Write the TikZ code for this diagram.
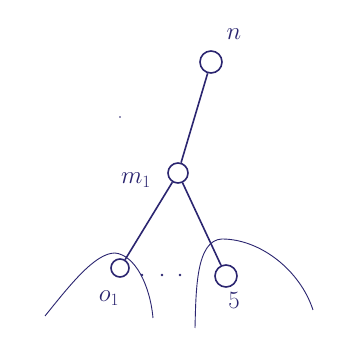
\documentclass[tikz,border=0pt]{standalone}
\usetikzlibrary{calc}
\definecolor{ink}{HTML}{2B2570}
\begin{document}
\begin{tikzpicture}[x=1pt,y=-1pt,
  vert/.style={draw=ink,line width=1.6pt,circle,inner sep=0pt},
  edge/.style={draw=ink,line width=1.6pt},
  hill/.style={draw=ink,line width=0.9pt},
  lbl/.style={text=ink,font=\fontsize{26}{28}\selectfont,inner sep=0pt}]
\useasboundingbox (0,0) rectangle (346,339);
\fill[white] (0,0) rectangle (346,339);
\node[vert,minimum size=22pt] (n) at (211,62) {};
\node[vert,minimum size=20pt] (m) at (178,173) {};
\node[vert,minimum size=18pt] (o) at (120,268) {};
\node[vert,minimum size=22pt] (f) at (226,276) {};
\node[lbl] (ln) at (234,34) {$n$};
\node[lbl] (lm) at (136,180) {$m_1$};
\node[lbl] (lo) at (109,298) {$o_1$};
\node[lbl] (lf) at (234,300) {$5$};
\draw[edge] (n) -- (m);
\draw[edge] (m) -- (o);
\draw[edge] (m) -- (f);
\foreach \p/\q in {a/142,b/162,c/180}{\fill[ink] (\q,275) circle (1.4pt) coordinate (d\p);}
\fill[ink] (120,117) circle (0.8pt) coordinate (stray);
\draw[hill] (45,316) .. controls (70,285) and (95,253) .. (115,253)
  .. controls (135,255) and (150,285) .. (153,318);
\draw[hill] (195,328) .. controls (196,290) and (196,240) .. (222,239)
  .. controls (260,239) and (300,270) .. (313,310);
\end{tikzpicture}
\end{document}
